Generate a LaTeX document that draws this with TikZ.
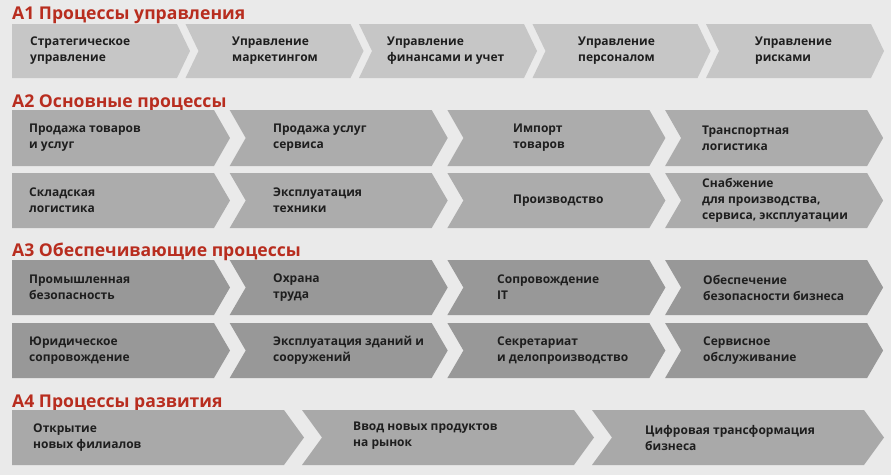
\documentclass[tikz,border=0pt]{standalone}
\usepackage{fontspec}
\setmainfont{Open Sans}
\definecolor{bgcol}{HTML}{EAEAEA}
\definecolor{titlered}{HTML}{B82D1F}
\definecolor{rowa}{HTML}{C6C6C6}
\definecolor{rowb}{HTML}{ACACAC}
\definecolor{rowc}{HTML}{989898}
\definecolor{rowd}{HTML}{A9A9A9}
\definecolor{textcol}{HTML}{1E1E1E}
% chevron: x0, x1, top, bottom, tip depth, notch depth, colour
\newcommand{\chev}[7]{%
  \fill[#7] (#1,#3) -- (#2,#3) -- ({#2+#5},{(#3+#4)/2}) -- (#2,#4)
    -- (#1,#4) -- ({#1+#6},{(#3+#4)/2}) -- cycle;}
\tikzset{
  grouptitle/.style={anchor=base west, inner sep=0pt, text=titlered,
    font=\fontsize{17.6}{20}\selectfont\bfseries},
  proc/.style={anchor=west, inner sep=0pt, align=left, text=textcol,
    font=\fontsize{12}{16}\selectfont\bfseries},
}
\begin{document}
\begin{tikzpicture}[x=1pt,y=-1pt]
        \fill[bgcol] (0,0) rectangle (891,475);
        \useasboundingbox (0,0) rectangle (891,475);
        % A1
        \node[grouptitle] (t1) at (12,19) {А1 Процессы управления};
        \foreach \i in {0,...,4} {
          \pgfmathsetmacro\xa{12+173.5*\i}
          \pgfmathsetmacro\xb{\xa+165}
          \pgfmathsetmacro\nt{ifthenelse(\i==0,0,13)}
          \chev{\xa}{\xb}{24}{78}{13}{\nt}{rowa}
        }
        \node[proc] (a11) at (30,51)  {Стратегическое\\управление};
        \node[proc] (a12) at (232,51) {Управление\\маркетингом};
        \node[proc] (a13) at (387,51) {Управление\\финансами и учет};
        \node[proc] (a14) at (578,51) {Управление\\персоналом};
        \node[proc] (a15) at (755,51) {Управление\\рисками};
        % A2
        \node[grouptitle] (t2) at (12,107.5) {А2 Основные процессы};
        \foreach \i in {0,...,3} {
          \pgfmathsetmacro\xa{12+217.7*\i}
          \pgfmathsetmacro\xb{\xa+202}
          \pgfmathsetmacro\nt{ifthenelse(\i==0,0,16)}
          \chev{\xa}{\xb}{110}{166}{16}{\nt}{rowb}
          \chev{\xa}{\xb}{173}{228}{16}{\nt}{rowb}
        }
        \node[proc] (a21) at (29,138)  {Продажа товаров\\и услуг};
        \node[proc] (a22) at (273,138) {Продажа услуг\\сервиса};
        \node[proc] (a23) at (513,138) {Импорт\\товаров};
        \node[proc] (a24) at (702,138) {Транспортная\\логистика};
        \node[proc] (a25) at (29,200.5)  {Складская\\логистика};
        \node[proc] (a26) at (273,200.5) {Эксплуатация\\техники};
        \node[proc] (a27) at (513,200.5) {Производство};
        \node[proc] (a28) at (702,200.5) {Снабжение\\для производства,\\сервиса, эксплуатации};
        % A3
        \node[grouptitle] (t3) at (12,256) {А3 Обеспечивающие процессы};
        \foreach \i in {0,...,3} {
          \pgfmathsetmacro\xa{12+217.7*\i}
          \pgfmathsetmacro\xb{\xa+202}
          \pgfmathsetmacro\nt{ifthenelse(\i==0,0,16)}
          \chev{\xa}{\xb}{260}{315}{16}{\nt}{rowc}
          \chev{\xa}{\xb}{323}{378}{16}{\nt}{rowc}
        }
        \node[proc] (a31) at (29,287.5)  {Промышленная\\безопасность};
        \node[proc] (a32) at (273,287.5) {Охрана\\труда};
        \node[proc] (a33) at (497,287.5) {Сопровождение\\IT};
        \node[proc] (a34) at (703,287.5) {Обеспечение\\безопасности бизнеса};
        \node[proc] (a35) at (29,350.5)  {Юридическое\\сопровождение};
        \node[proc] (a36) at (273,350.5) {Эксплуатация зданий и\\сооружений};
        \node[proc] (a37) at (497,350.5) {Секретариат\\и делопроизводство};
        \node[proc] (a38) at (703,350.5) {Сервисное\\обслуживание};
        % A4
        \node[grouptitle] (t4) at (12,407.5) {А4 Процессы развития};
        \foreach \i in {0,...,2} {
          \pgfmathsetmacro\xa{12+290*\i}
          \pgfmathsetmacro\xb{\xa+272}
          \pgfmathsetmacro\nt{ifthenelse(\i==0,0,20)}
          \chev{\xa}{\xb}{410}{465}{20}{\nt}{rowd}
        }
        \node[proc] (a41) at (33,437.5)  {Открытие\\новых филиалов};
        \node[proc] (a42) at (353,435.5) {Ввод новых продуктов\\на рынок};
        \node[proc] (a43) at (645,437.5) {Цифровая трансформация\\бизнеса};
      \end{tikzpicture}
\end{document}
